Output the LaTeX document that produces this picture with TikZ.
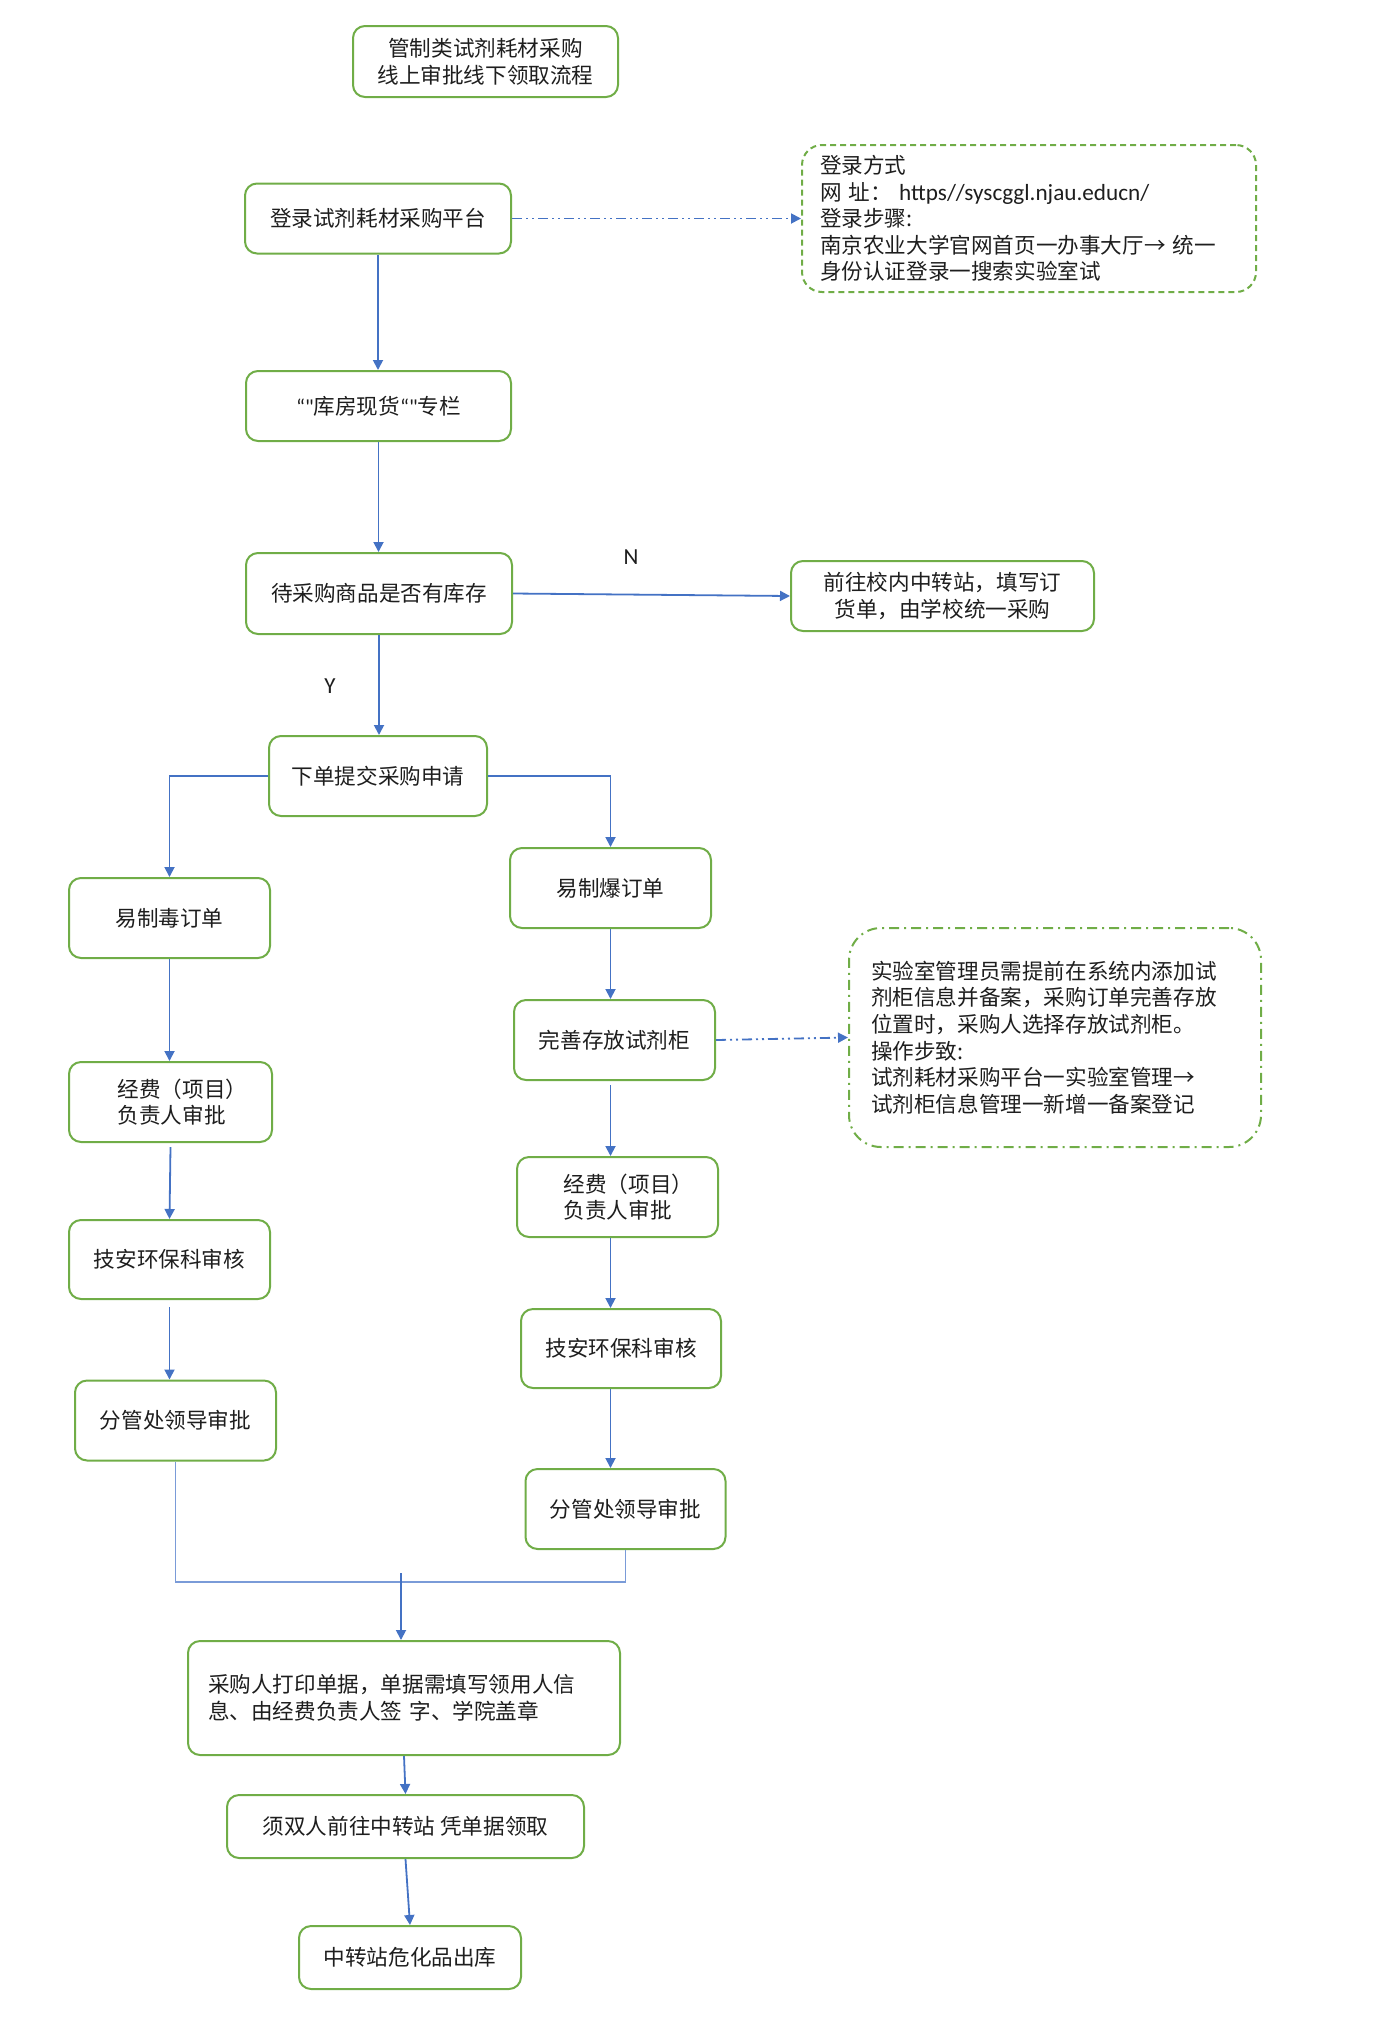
\documentclass[tikz,border=0pt]{standalone}
\usepackage{fontspec}
\setmainfont{Noto Sans CJK SC}
\newfontfamily\latinfont{Carlito}
\usetikzlibrary{arrows.meta}
\definecolor{bgreen}{HTML}{70AD47}
\definecolor{cblue}{HTML}{4472C4}
\definecolor{cthin}{HTML}{7A9BD8}
\definecolor{txt}{HTML}{1E1E1E}
\begin{document}
\begin{tikzpicture}[x=0.5pt,y=-0.5pt,
  font=\fontsize{10.8pt}{13.3pt}\selectfont,
  box/.style={draw=bgreen, line width=1pt, rounded corners=6pt, fill=white, text=txt, align=center, inner sep=0pt},
  notea/.style={draw=bgreen, line width=1pt, rounded corners=10pt, dash pattern=on 3pt off 2pt, text=txt, align=left, inner ysep=0pt},
  noteb/.style={draw=bgreen, line width=1pt, rounded corners=16pt, dash pattern=on 5pt off 2.5pt on 1pt off 2.5pt, text=txt, align=left, inner ysep=0pt},
  conn/.style={draw=cblue, line width=0.9pt, -{Triangle[length=5pt,width=5pt]}},
  dconn/.style={conn, dash pattern=on 5pt off 2pt on 1pt off 2pt on 1pt off 2pt},
  thinline/.style={draw=cthin, line width=0.6pt},
  lbl/.style={text=txt, inner sep=0pt, font=\latinfont\fontsize{11.5pt}{13.3pt}\selectfont}
]
\useasboundingbox (0,0) rectangle (1372,2030);

% nodes
\node[box, minimum width=132.5pt, minimum height=35.5pt] (title) at (485.5,61.5) {管制类试剂耗材采购\\线上审批线下领取流程};
\node[box, minimum width=133pt, minimum height=35pt] (login) at (378,218.5) {登录试剂耗材采购平台};
\node[notea, minimum width=227pt, minimum height=73.5pt, text width=209pt, inner xsep=9pt] (info1) at (1029,218.5)
  {登录方式\\网 址： {\latinfont\fontsize{11.6pt}{13.3pt}\selectfont https//syscggl.njau.educn/}\\登录步骤:\\南京农业大学官网首页一办事大厅→ 统一\\身份认证登录一搜索实验室试};
\node[box, minimum width=132.5pt, minimum height=35pt] (stock) at (378.5,406) {{\latinfont “"}库房现货{\latinfont “"}专栏};
\node[box, minimum width=133pt, minimum height=40.5pt] (check) at (379,593.5) {待采购商品是否有库存};
\node[box, minimum width=151.5pt, minimum height=35pt] (goto) at (942.5,596) {前往校内中转站，填写订\\货单，由学校统一采购};
\node[box, minimum width=109pt, minimum height=40pt] (order) at (378,776) {下单提交采购申请};
\node[box, minimum width=100.5pt, minimum height=40pt] (poison) at (169.5,918) {易制毒订单};
\node[box, minimum width=100.5pt, minimum height=40pt] (explo) at (610.5,888) {易制爆订单};
\node[box, minimum width=100.5pt, minimum height=40pt] (cab) at (614.5,1040) {完善存放试剂柜};
\node[noteb, minimum width=206pt, minimum height=109.5pt, text width=184pt, inner xsep=11pt] (info2) at (1055,1037.5)
  {实验室管理员需提前在系统内添加试\\剂柜信息并备案，采购订单完善存放\\位置时，采购人选择存放试剂柜。\\操作步致:\\试剂耗材采购平台一实验室管理→\\试剂柜信息管理一新增一备案登记};
\node[box, minimum width=101.5pt, minimum height=40pt, align=left] (fundL) at (170.5,1102) {\hspace*{12pt}经费（项目）\\\hspace*{12pt}负责人审批};
\node[box, minimum width=100.5pt, minimum height=39.5pt] (safeL) at (169.5,1259.5) {技安环保科审核};
\node[box, minimum width=100.5pt, minimum height=40pt] (leadL) at (175.5,1420.5) {分管处领导审批};
\node[box, minimum width=100.5pt, minimum height=40pt, align=left] (fundR) at (617.5,1197) {\hspace*{11pt}经费（项目）\\\hspace*{11pt}负责人审批};
\node[box, minimum width=100pt, minimum height=39.5pt] (safeR) at (621,1348.5) {技安环保科审核};
\node[box, minimum width=100pt, minimum height=40pt] (leadR) at (625.5,1509) {分管处领导审批};
\node[box, minimum height=57pt, text width=196pt, inner xsep=10pt, align=left] (print) at (404,1698)
  {采购人打印单据，单据需填写领用人信\\息、由经费负责人签 字、学院盖章};
\node[box, minimum width=178.5pt, minimum height=31.5pt] (two) at (405.5,1826.5) {须双人前往中转站 凭单据领取};
\node[box, minimum width=111pt, minimum height=31.5pt] (out) at (410,1957.5) {中转站危化品出库};

\node[lbl] (nlab) at (631,557) {N};
\node[lbl] (ylab) at (330,686) {Y};

\coordinate (jn) at (401,1582);
\coordinate (jt) at (401,1573);

% connectors
\draw[conn] (login.south) -- (login.south |- stock.north);
\draw[dconn] (login.east) -- (info1.west |- login.east);
\draw[conn] (stock.south) -- (stock.south |- check.north);
\draw[conn] (check.east) -- (goto.west);
\draw[conn] (check.south) -- (check.south |- order.north);
\draw[conn] (order.west) -| (poison.north);
\draw[conn] (order.east) -| (explo.north);
\draw[conn] (poison.south) -- (poison.south |- fundL.north);
\draw[conn] ([yshift=-2pt]fundL.south) -- (poison.south |- safeL.north);
\draw[conn] ([yshift=-3.5pt]safeL.south) -- (safeL.south |- leadL.north);
\draw[conn] (explo.south) -- (explo.south |- cab.north);
\draw[dconn] (cab.east) -- (info2.west);
\draw[conn] ([yshift=-2pt]explo.south |- cab.south) -- (explo.south |- fundR.north);
\draw[conn] (explo.south |- fundR.south) -- (explo.south |- safeR.north);
\draw[conn] (explo.south |- safeR.south) -- (explo.south |- leadR.north);
\draw[thinline] (leadL.south) |- (jn) -| (leadR.south);
\draw[conn] (jt) -- (jt |- print.north);
\draw[conn] (print.south) -- (two.north);
\draw[conn] (two.south) -- (out.north);
\end{tikzpicture}
\end{document}
